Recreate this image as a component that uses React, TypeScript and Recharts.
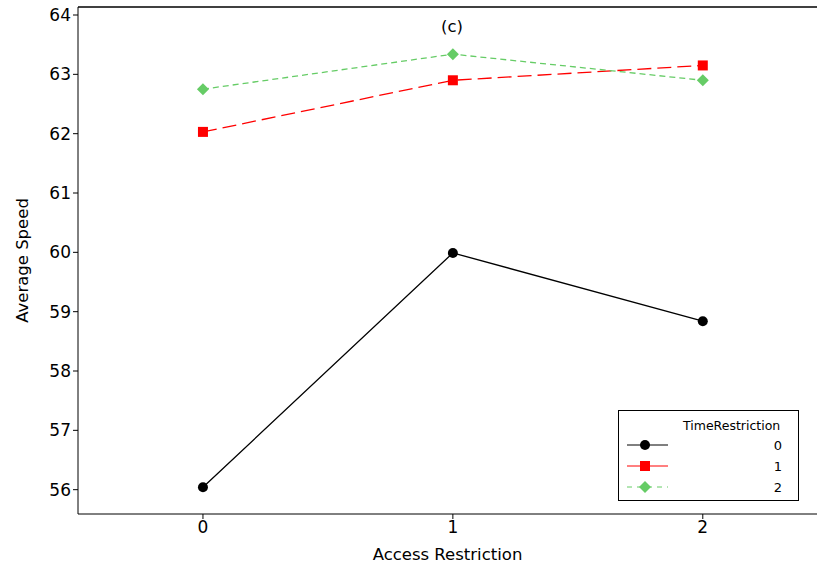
import React from 'react'
import {
  LineChart,
  Line,
  XAxis,
  YAxis,
  Label,
  ReferenceLine,
} from 'recharts'

// Access restriction levels on the x axis
const accessLevels = [0, 1, 2]
// Average speed per time restriction level
const speedTime0 = [56.04, 59.99, 58.84]
const speedTime1 = [62.03, 62.9, 63.15]
const speedTime2 = [62.75, 63.34, 62.9]
const yTicks = [56, 57, 58, 59, 60, 61, 62, 63, 64]
const seriesNames = ['0', '1', '2']

const FONT = 'Tahoma, "DejaVu Sans", sans-serif'
const GREEN = '#66cc66'
const RED = '#ff0000'

const data = accessLevels.map((a, i) => ({
  access: a,
  t0: speedTime0[i],
  t1: speedTime1[i],
  t2: speedTime2[i],
}))

const CircleDot = (props: any) => {
  const { cx, cy } = props
  if (cx == null || cy == null) return null
  return <circle cx={cx} cy={cy} r={5} fill="#000" />
}

const SquareDot = (props: any) => {
  const { cx, cy } = props
  if (cx == null || cy == null) return null
  return <rect x={cx - 5} y={cy - 5} width={10} height={10} fill={RED} />
}

const DiamondDot = (props: any) => {
  const { cx, cy } = props
  if (cx == null || cy == null) return null
  return (
    <polygon
      points={`${cx},${cy - 6} ${cx + 6},${cy} ${cx},${cy + 6} ${cx - 6},${cy}`}
      fill={GREEN}
    />
  )
}

function LegendBox() {
  const rows = [
    { label: seriesNames[0], color: '#000', dash: undefined, mark: 'circle' },
    { label: seriesNames[1], color: RED, dash: undefined, mark: 'square' },
    { label: seriesNames[2], color: GREEN, dash: '5 5', mark: 'diamond' },
  ]
  return (
    <svg width={181} height={91} style={{ display: 'block' }}>
      <rect x={0.5} y={0.5} width={180} height={90} fill="#fff" stroke="#000" />
      <text x={65} y={20} fontSize={12.5} fontFamily={FONT} fill="#000">
        TimeRestriction
      </text>
      {rows.map((r, i) => {
        const y = 35 + i * 21
        return (
          <g key={r.label}>
            <line x1={9} x2={50} y1={y} y2={y} stroke={r.color} strokeDasharray={r.dash} />
            {r.mark === 'circle' && <circle cx={27} cy={y} r={5} fill="#000" />}
            {r.mark === 'square' && <rect x={22} y={y - 5} width={10} height={10} fill={RED} />}
            {r.mark === 'diamond' && (
              <polygon points={`27,${y - 6} 33,${y} 27,${y + 6} 21,${y}`} fill={GREEN} />
            )}
            <text x={164} y={y + 5} fontSize={13} fontFamily={FONT} textAnchor="end" fill="#000">
              {r.label}
            </text>
          </g>
        )
      })}
    </svg>
  )
}

export default function App() {
  return (
    <div style={{ position: 'absolute', left: 0, top: 0, width: 817, height: 571, background: '#fff', overflow: 'hidden' }}>
      <LineChart
        width={817}
        height={571}
        data={data}
        margin={{ top: 7, right: 0, left: 18, bottom: 27 }}
      >
        <XAxis
          dataKey="access"
          type="number"
          domain={[-0.5, 2.457]}
          ticks={accessLevels}
          allowDataOverflow
          height={30}
          stroke="#000"
          tickLine={{ stroke: '#000' }}
          tickSize={5}
          tick={{ fill: '#000', fontSize: 17, fontFamily: FONT }}
        >
          <Label
            value="Access Restriction"
            position="insideBottom"
            offset={-16}
            style={{ fill: '#000', fontSize: 16.5, fontFamily: FONT }}
          />
        </XAxis>
        <YAxis
          type="number"
          domain={[55.59, 64.135]}
          ticks={yTicks}
          allowDataOverflow
          width={60}
          stroke="#000"
          tickSize={5}
          tick={{ fill: '#000', fontSize: 17, fontFamily: FONT }}
        >
          <Label
            value="Average Speed"
            angle={-90}
            position="insideLeft"
            offset={4}
            style={{ fill: '#000', fontSize: 16.5, fontFamily: FONT, textAnchor: 'middle' }}
          />
        </YAxis>
        <ReferenceLine y={64.135} stroke="#000" strokeWidth={1.5} />
        <Line
          dataKey="t0"
          stroke="#000"
          strokeWidth={1.3}
          dot={<CircleDot />}
          isAnimationActive={false}
        />
        <Line
          dataKey="t1"
          stroke={RED}
          strokeWidth={1.3}
          strokeDasharray="14 6"
          dot={<SquareDot />}
          isAnimationActive={false}
        />
        <Line
          dataKey="t2"
          stroke={GREEN}
          strokeWidth={1.3}
          strokeDasharray="6 4"
          dot={<DiamondDot />}
          isAnimationActive={false}
        />
        <text x={452} y={32} textAnchor="middle" fontSize={16.5} fontFamily={FONT} fill="#000">
          (c)
        </text>
      </LineChart>
      <div style={{ position: 'absolute', left: 618, top: 410 }}>
        <LegendBox />
      </div>
    </div>
  )
}
